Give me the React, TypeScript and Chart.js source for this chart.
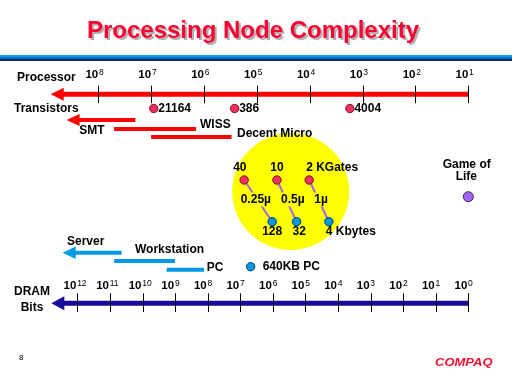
import React, { useEffect, useRef } from "react";
import { Chart, registerables } from "chart.js";

Chart.register(...registerables);

// ---------------- data ----------------
const TITLE = "Processing Node Complexity";

// tick exponents (10^n)
const PROC_TICKS = [8, 7, 6, 5, 4, 3, 2, 1];
const DRAM_TICKS = [12, 11, 10, 9, 8, 7, 6, 5, 4, 3, 2, 1, 0];

// processors: log10(transistors)
const CPU_NAMES = ["21164", "386", "4004"];
const CPU_EXP = [6.95, 5.42, 3.24];

// multithreaded architectures: transistor ranges (log10)
const MT_NAMES = ["SMT", "WISS", "Decent Micro"];
const MT_FROM = [8.6, 7.7, 7.0];
const MT_TO = [7.3, 6.15, 5.48];

// small nodes: gates (processor scale) and memory (DRAM bit scale)
const GATE_LABELS = ["40", "10", "2 KGates"];
const GATE_EXP = [5.24, 4.62, 4.01];
const FEATURE_LABELS = ["0.25µ", "0.5µ", "1µ"];
const MEM_LABELS = ["128", "32", "4 Kbytes"];
const MEM_EXP = [6.02, 5.27, 4.28];

// systems: DRAM bit ranges (log10)
const SYS_NAMES = ["Server", "Workstation", "PC"];
const SYS_FROM = [12.45, 10.87, 9.26];
const SYS_TO = [10.64, 9.0, 8.11];

const PC640_LABEL = "640KB PC";
const PC640_EXP = 6.68;
const LIFE_EXP = 0;

// axis extents (arrow beyond the last decade)
const PROC_AXIS = [8.9, 1];
const DRAM_AXIS = [12.8, 0];
const BUBBLE_EXP = 4.36;

// ---------------- layout ----------------
const LANE = {
  procAxis: 94.2,
  cpu: 108.5,
  mt: [120, 129, 137],
  gates: 180,
  bubble: 191.5,
  life: 196.7,
  mem: 221.7,
  sys: [252.7, 261, 269.7],
  pc640: 266.7,
  dramAxis: 303.3,
};

const FONT = '"Liberation Sans", Arial, sans-serif';
const F12 = `bold 12px ${FONT}`;
const RED = "#ff0000";
const NAVY = "#1a0a9a";
const LBLUE = "#0099e6";
const PURPLE = "#a366ee";
const DOT_RED = "#f0305a";
const DOT_BLUE = "#0098e0";

function txt(ctx: CanvasRenderingContext2D, s: string, x: number, y: number, align: CanvasTextAlign = "left", font = F12, color = "#000") {
  ctx.font = font;
  ctx.fillStyle = color;
  ctx.textAlign = align;
  ctx.textBaseline = "middle";
  ctx.fillText(s, x, y);
}

function pow10(ctx: CanvasRenderingContext2D, px: number, baseline: number, exp: number, dx: number) {
  ctx.fillStyle = "#000";
  ctx.textBaseline = "alphabetic";
  ctx.font = `bold 11.5px ${FONT}`;
  ctx.textAlign = "right";
  ctx.fillText("10", px + dx, baseline);
  ctx.font = `8.5px ${FONT}`;
  ctx.textAlign = "left";
  ctx.fillText(String(exp), px + dx + 0.8, baseline - 3);
}

const ARROW_L = 13;
const ARROW_H = 6.5;

const slidePlugin = {
  id: "slide",
  beforeDatasetsDraw(chart: any) {
    const ctx = chart.ctx as CanvasRenderingContext2D;
    ctx.save();
    // header rule
    ctx.fillStyle = "#10a0f0";
    ctx.fillRect(0, 55, 512, 2);
    ctx.fillStyle = "#0070c8";
    ctx.fillRect(0, 57, 512, 2);
    ctx.fillStyle = "#08305a";
    ctx.fillRect(0, 59, 512, 2);
    // title with shadow
    ctx.font = `bold 24px ${FONT}`;
    ctx.textAlign = "center";
    ctx.textBaseline = "alphabetic";
    ctx.fillStyle = "#b0b0b0";
    ctx.fillText(TITLE, 255, 40.3);
    ctx.fillStyle = "#ff0033";
    ctx.fillText(TITLE, 253, 38.3);
    ctx.restore();
  },
  beforeDatasetDraw(chart: any, args: any) {
    const ds = chart.data.datasets[args.index];
    if (ds.arrow) {
      const p = args.meta.data[0];
      const ctx = chart.ctx as CanvasRenderingContext2D;
      ctx.save();
      ctx.beginPath();
      ctx.rect(p.x + ARROW_L - 1, 0, 1000, 1000);
      ctx.clip();
    }
  },
  afterDatasetDraw(chart: any, args: any) {
    const ds = chart.data.datasets[args.index];
    const ctx = chart.ctx as CanvasRenderingContext2D;
    if (ds.arrow) {
      ctx.restore();
      const p = args.meta.data[0];
      const h = ds.arrowH || ARROW_H;
      ctx.save();
      ctx.fillStyle = ds.borderColor;
      ctx.beginPath();
      ctx.moveTo(p.x, p.y);
      ctx.lineTo(p.x + ARROW_L, p.y - h);
      ctx.lineTo(p.x + ARROW_L, p.y + h);
      ctx.closePath();
      ctx.fill();
      ctx.restore();
    }
    if (ds.bubble) {
      // connectors gate -> memory
      const xp = chart.scales.x;
      const xd = chart.scales.xd;
      const y = chart.scales.y;
      ctx.save();
      ctx.strokeStyle = PURPLE;
      ctx.lineWidth = 2;
      GATE_EXP.forEach((g, i) => {
        ctx.beginPath();
        ctx.moveTo(xp.getPixelForValue(g), y.getPixelForValue(LANE.gates));
        ctx.lineTo(xd.getPixelForValue(MEM_EXP[i]), y.getPixelForValue(LANE.mem));
        ctx.stroke();
      });
      ctx.restore();
    }
  },
  afterDatasetsDraw(chart: any) {
    const ctx = chart.ctx as CanvasRenderingContext2D;
    const xp = chart.scales.x;
    const xd = chart.scales.xd;
    const y = chart.scales.y;
    ctx.save();
    // ticks
    ctx.strokeStyle = "#000";
    ctx.lineWidth = 1;
    const py = y.getPixelForValue(LANE.procAxis);
    PROC_TICKS.forEach((e) => {
      const px = Math.round(xp.getPixelForValue(e)) + 0.5;
      ctx.beginPath();
      ctx.moveTo(px, py - 8.5);
      ctx.lineTo(px, py + 9);
      ctx.stroke();
      pow10(ctx, xp.getPixelForValue(e), py - 16, e, 0);
    });
    const dy = y.getPixelForValue(LANE.dramAxis);
    DRAM_TICKS.forEach((e) => {
      const px = Math.round(xd.getPixelForValue(e)) + 0.5;
      ctx.beginPath();
      ctx.moveTo(px, dy - 10);
      ctx.lineTo(px, dy + 8.7);
      ctx.stroke();
      pow10(ctx, xd.getPixelForValue(e), dy - 14.5, e, -1);
    });

    // axis titles
    txt(ctx, "Processor", 17, 78);
    txt(ctx, "Transistors", 14, 108.3);
    txt(ctx, "DRAM", 32, 291.7, "center");
    txt(ctx, "Bits", 32, 308, "center");

    // processor labels
    CPU_NAMES.forEach((n, i) => {
      txt(ctx, n, xp.getPixelForValue(CPU_EXP[i]) + 4.5, y.getPixelForValue(LANE.cpu));
    });

    // multithread labels
    txt(ctx, MT_NAMES[0], 79.3, 130.8);
    txt(ctx, MT_NAMES[1], 200, 124.7);
    txt(ctx, MT_NAMES[2], 237, 134);

    // system labels
    txt(ctx, SYS_NAMES[0], 67, 241.7);
    txt(ctx, SYS_NAMES[1], 135, 249.3);
    txt(ctx, SYS_NAMES[2], 206.7, 267.3);
    txt(ctx, PC640_LABEL, xd.getPixelForValue(PC640_EXP) + 12, y.getPixelForValue(LANE.pc640));

    // bubble labels
    const gateDx = [-11, -6.7, -3];
    GATE_LABELS.forEach((s, i) => {
      txt(ctx, s, xp.getPixelForValue(GATE_EXP[i]) + gateDx[i], 167.3);
    });
    const featX = [240.7, 281, 314.3];
    FEATURE_LABELS.forEach((s, i) => {
      ctx.font = F12;
      const w = ctx.measureText(s).width;
      ctx.fillStyle = "#ffff00";
      ctx.fillRect(featX[i] - 1.5, 192.5, w + 3, 14);
      txt(ctx, s, featX[i], 199.3);
    });
    const memDx = [-10, -4, -3];
    MEM_LABELS.forEach((s, i) => {
      txt(ctx, s, xd.getPixelForValue(MEM_EXP[i]) + memDx[i], 231.7);
    });

    // game of life
    txt(ctx, "Game of", 466.7, 165, "center");
    txt(ctx, "Life", 466.3, 177, "center");

    // footer
    txt(ctx, "8", 19, 357.5, "left", `8px ${FONT}`);
    ctx.save();
    ctx.font = `italic bold 13px ${FONT}`;
    ctx.fillStyle = "#f01030";
    ctx.textAlign = "left";
    ctx.textBaseline = "alphabetic";
    ctx.translate(435, 366);
    ctx.scale(1, 0.85);
    ctx.fillText("COMPAQ", 0, 0);
    ctx.restore();

    ctx.restore();
  },
};

function lineDs(xAxisID: string, from: number, to: number, lane: number, color: string, width: number, arrow = false, arrowH = ARROW_H) {
  return {
    type: "scatter",
    xAxisID,
    yAxisID: "y",
    data: [
      { x: from, y: lane },
      { x: to, y: lane },
    ],
    showLine: true,
    borderColor: color,
    backgroundColor: color,
    borderWidth: width,
    borderCapStyle: "butt",
    pointRadius: 0,
    fill: false,
    clip: false,
    order: 5,
    arrow,
    arrowH,
  };
}

function dotDs(xAxisID: string, xs: number[], lane: number, fill: string, stroke: string, r = 4.2) {
  return {
    type: "scatter",
    xAxisID,
    yAxisID: "y",
    data: xs.map((x) => ({ x, y: lane })),
    showLine: false,
    pointRadius: r,
    pointBackgroundColor: fill,
    pointBorderColor: stroke,
    pointBorderWidth: 1,
    clip: false,
    order: 1,
  };
}

export default function App() {
  const ref = useRef<HTMLCanvasElement | null>(null);
  useEffect(() => {
    if (!ref.current) return;
    const datasets: any[] = [
      {
        type: "scatter",
        xAxisID: "x",
        yAxisID: "y",
        data: [{ x: BUBBLE_EXP, y: LANE.bubble }],
        pointRadius: 58.5,
        pointBackgroundColor: "#ffff00",
        pointBorderWidth: 0,
        clip: false,
        order: 10,
        bubble: true,
      },
      lineDs("x", PROC_AXIS[0], PROC_AXIS[1], LANE.procAxis, RED, 5, true),
      ...MT_NAMES.map((_, i) => lineDs("x", MT_FROM[i], MT_TO[i], LANE.mt[i], RED, 4, i === 0, 6)),
      lineDs("xd", DRAM_AXIS[0], DRAM_AXIS[1], LANE.dramAxis, NAVY, 5, true, 7),
      ...SYS_NAMES.map((_, i) => lineDs("xd", SYS_FROM[i], SYS_TO[i], LANE.sys[i], LBLUE, 4, i === 0, 6.3)),
      dotDs("x", CPU_EXP, LANE.cpu, DOT_RED, "#7a1030"),
      dotDs("x", GATE_EXP, LANE.gates, DOT_RED, "#7a1030"),
      dotDs("xd", MEM_EXP, LANE.mem, DOT_BLUE, "#003a70"),
      dotDs("xd", [PC640_EXP], LANE.pc640, DOT_BLUE, "#003a70"),
      dotDs("xd", [LIFE_EXP], LANE.life, PURPLE, "#40206a", 5),
    ];
    const chart = new Chart(ref.current, {
      type: "scatter",
      data: { datasets },
      options: {
        animation: false,
        responsive: false,
        devicePixelRatio: 1,
        events: [],
        layout: { padding: 0, autoPadding: false },
        plugins: {
          legend: { display: false },
          tooltip: { enabled: false },
          title: { display: false },
        },
        scales: {
          x: { type: "linear", reverse: true, min: 0.173, max: 9.859, display: false },
          xd: { type: "linear", axis: "x", reverse: true, min: -1.341, max: 14.374, display: false },
          y: { type: "linear", reverse: true, min: 0, max: 384, display: false },
        },
      } as any,
      plugins: [slidePlugin as any],
    } as any);
    return () => chart.destroy();
  }, []);
  return (
    <div style={{ position: "fixed", left: 0, top: 0, width: 512, height: 384, background: "#fff" }}>
      <canvas ref={ref} width={512} height={384} style={{ display: "block" }} />
    </div>
  );
}
